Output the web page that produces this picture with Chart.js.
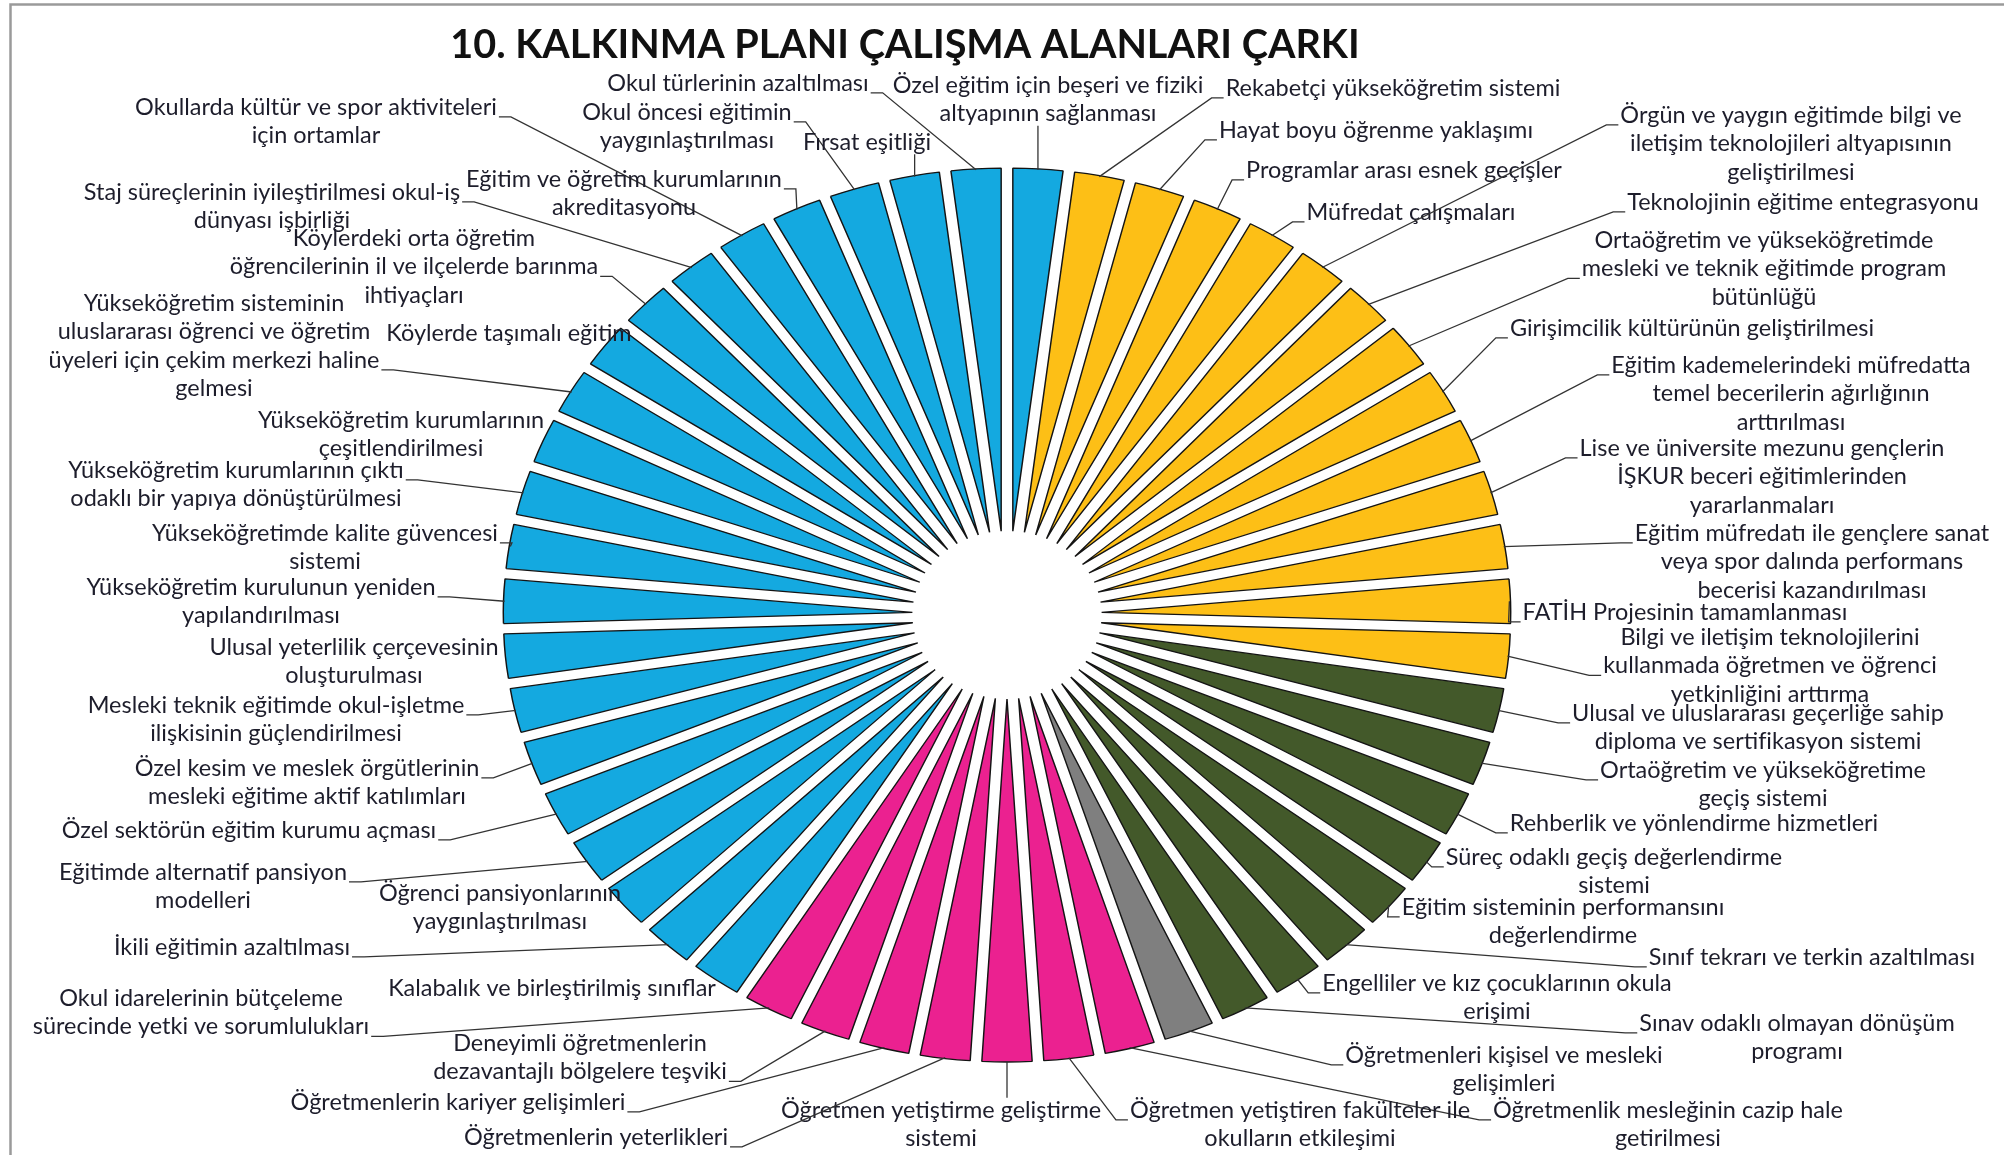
<!DOCTYPE html>
<html lang="tr">
<head>
<meta charset="utf-8">
<title>10. Kalkınma Planı Çalışma Alanları Çarkı</title>
<script src="https://cdn.jsdelivr.net/npm/chart.js@4.4.1/dist/chart.umd.min.js"></script>
<style>
  html, body { margin: 0; padding: 0; background: #fff; }
  #wrap { position: relative; width: 2004px; height: 1155px; }
</style>
</head>
<body>
<div id="wrap"><canvas id="wheel" width="2004" height="1155"></canvas></div>
<script>
// working areas, clockwise from 12 o'clock ("\n" = line break of the label)
const categories = [
  'Özel eğitim için beşeri ve fiziki\naltyapının sağlanması',
  'Rekabetçi yükseköğretim sistemi',
  'Hayat boyu öğrenme yaklaşımı',
  'Programlar arası esnek geçişler',
  'Müfredat çalışmaları',
  'Örgün ve yaygın eğitimde bilgi ve\niletişim teknolojileri altyapısının\ngeliştirilmesi',
  'Teknolojinin eğitime entegrasyonu',
  'Ortaöğretim ve yükseköğretimde\nmesleki ve teknik eğitimde program\nbütünlüğü',
  'Girişimcilik kültürünün geliştirilmesi',
  'Eğitim kademelerindeki müfredatta\ntemel becerilerin ağırlığının\narttırılması',
  'Lise ve üniversite mezunu gençlerin\nİŞKUR beceri eğitimlerinden\nyararlanmaları',
  'Eğitim müfredatı ile gençlere sanat\nveya spor dalında performans\nbecerisi kazandırılması',
  'FATİH Projesinin tamamlanması',
  'Bilgi ve iletişim teknolojilerini\nkullanmada öğretmen ve öğrenci\nyetkinliğini arttırma',
  'Ulusal ve uluslararası geçerliğe sahip\ndiploma ve sertifikasyon sistemi',
  'Ortaöğretim ve yükseköğretime\ngeçiş sistemi',
  'Rehberlik ve yönlendirme hizmetleri',
  'Süreç odaklı geçiş değerlendirme\nsistemi',
  'Eğitim sisteminin performansını\ndeğerlendirme',
  'Sınıf tekrarı ve terkin azaltılması',
  'Engelliler ve kız çocuklarının okula\nerişimi',
  'Sınav odaklı olmayan dönüşüm\nprogramı',
  'Öğretmenleri kişisel ve mesleki\ngelişimleri',
  'Öğretmenlik mesleğinin cazip hale\ngetirilmesi',
  'Öğretmen yetiştiren fakülteler ile\nokulların etkileşimi',
  'Öğretmen yetiştirme geliştirme\nsistemi',
  'Öğretmenlerin yeterlikleri',
  'Öğretmenlerin kariyer gelişimleri',
  'Deneyimli öğretmenlerin\ndezavantajlı bölgelere teşviki',
  'Okul idarelerinin bütçeleme\nsürecinde yetki ve sorumlulukları',
  'Kalabalık ve birleştirilmiş sınıflar',
  'İkili eğitimin azaltılması',
  'Öğrenci pansiyonlarının\nyaygınlaştırılması',
  'Eğitimde alternatif pansiyon\nmodelleri',
  'Özel sektörün eğitim kurumu açması',
  'Özel kesim ve meslek örgütlerinin\nmesleki eğitime aktif katılımları',
  'Mesleki teknik eğitimde okul-işletme\nilişkisinin güçlendirilmesi',
  'Ulusal yeterlilik çerçevesinin\noluşturulması',
  'Yükseköğretim kurulunun yeniden\nyapılandırılması',
  'Yükseköğretimde kalite güvencesi\nsistemi',
  'Yükseköğretim kurumlarının çıktı\nodaklı bir yapıya dönüştürülmesi',
  'Yükseköğretim kurumlarının\nçeşitlendirilmesi',
  'Yükseköğretim sisteminin\nuluslararası öğrenci ve öğretim\nüyeleri için çekim merkezi haline\ngelmesi',
  'Köylerde taşımalı eğitim',
  'Köylerdeki orta öğretim\nöğrencilerinin il ve ilçelerde barınma\nihtiyaçları',
  'Staj süreçlerinin iyileştirilmesi okul-iş\ndünyası işbirliği',
  'Okullarda kültür ve spor aktiviteleri\niçin ortamlar',
  'Eğitim ve öğretim kurumlarının\nakreditasyonu',
  'Okul öncesi eğitimin\nyaygınlaştırılması',
  'Fırsat eşitliği',
  'Okul türlerinin azaltılması'
];

// every area gets the same share of the wheel
const values = [
  1, 1, 1, 1, 1, 1, 1, 1, 1, 1, 1, 1, 1, 1, 1, 1, 1,
  1, 1, 1, 1, 1, 1, 1, 1, 1, 1, 1, 1, 1, 1, 1, 1, 1,
  1, 1, 1, 1, 1, 1, 1, 1, 1, 1, 1, 1, 1, 1, 1, 1, 1
];

// colour group of each area
const groups = [
  'blue',
  'yellow', 'yellow', 'yellow', 'yellow', 'yellow', 'yellow', 'yellow',
  'yellow', 'yellow', 'yellow', 'yellow', 'yellow', 'yellow',
  'green', 'green', 'green', 'green', 'green', 'green', 'green', 'green',
  'gray',
  'pink', 'pink', 'pink', 'pink', 'pink', 'pink', 'pink',
  'blue', 'blue', 'blue', 'blue', 'blue', 'blue', 'blue', 'blue', 'blue', 'blue', 'blue',
  'blue', 'blue', 'blue', 'blue', 'blue', 'blue', 'blue', 'blue', 'blue', 'blue'
];

const groupColors = {
  blue: '#14A9E0',
  yellow: '#FDBF16',
  green: '#43592A',
  gray: '#7F7F7F',
  pink: '#EB2190'
};

// label placement: centre x of the text block, y of its first line
const labelPos = [
  [1048, 85], [1393, 88], [1376, 130], [1404, 170], [1411, 212],
  [1791, 115], [1803, 202], [1764, 240], [1692, 328], [1791, 365],
  [1762, 448], [1812, 533], [1685, 612], [1770, 637], [1758, 713],
  [1763, 770], [1694, 823], [1614, 857], [1563, 907], [1812, 957],
  [1497, 983], [1797, 1023], [1504, 1055], [1668, 1110], [1300, 1110],
  [941, 1110], [596, 1137], [458, 1102], [580, 1043], [201, 998],
  [552, 988], [232, 947], [500, 893], [203, 872], [249, 830],
  [307, 768], [276, 705], [354, 647], [261, 587], [325, 533],
  [236, 470], [401, 420], [214, 303], [509, 333], [414, 238],
  [272, 192], [316, 107], [624, 179], [687, 112], [867, 142],
  [738, 83]
];

const TITLE = '10. KALKINMA PLANI ÇALIŞMA ALANLARI ÇARKI';
const STRETCH_X = 1.127;   // the wheel is wider than tall
const EXPLODE = 84;        // every slice is pulled out of the centre by this much
const LINE_H = 28.5;
const FONT_FAMILY = 'Lato, "Open Sans", sans-serif';
const TEXT_COLOR = '#1d1d2b';

function fitFont(ctx, sample, target, weight) {
  ctx.font = weight + ' 100px ' + FONT_FAMILY;
  const size = 100 * target / ctx.measureText(sample).width;
  return weight + ' ' + size.toFixed(2) + 'px ' + FONT_FAMILY;
}

function wheelCenter(chart) {
  const a = chart.chartArea;
  return [(a.left + a.right) / 2, (a.top + a.bottom) / 2];
}

// draws the library's arcs pulled apart and stretched sideways
const explodedWheel = {
  id: 'explodedWheel',
  beforeDraw(chart) {
    const ctx = chart.ctx;
    ctx.save();
    ctx.strokeStyle = '#9a9a9a';
    ctx.lineWidth = 2.5;
    ctx.strokeRect(10.5, 4.5, 2200, 1400);
    ctx.restore();
  },
  beforeDatasetsDraw(chart) {
    const ctx = chart.ctx;
    const [cx, cy] = wheelCenter(chart);
    const meta = chart.getDatasetMeta(0);
    ctx.save();
    ctx.translate(cx, cy);
    ctx.scale(STRETCH_X, 1);
    ctx.translate(-cx, -cy);
    meta.data.forEach(el => {
      const mid = (el.startAngle + el.endAngle) / 2;
      ctx.save();
      ctx.translate(Math.cos(mid) * EXPLODE, Math.sin(mid) * EXPLODE);
      el.draw(ctx, chart.chartArea);
      ctx.restore();
    });
    ctx.restore();
    return false;
  }
};

const wheelLabels = {
  id: 'wheelLabels',
  afterDraw(chart) {
    const ctx = chart.ctx;
    const [cx, cy] = wheelCenter(chart);
    const meta = chart.getDatasetMeta(0);

    ctx.save();
    ctx.fillStyle = '#111';
    ctx.textAlign = 'center';
    ctx.textBaseline = 'middle';
    ctx.font = fitFont(ctx, TITLE, 910, 'bold');
    ctx.fillText(TITLE, 905, 45);

    const labelFont = fitFont(ctx, 'Okullarda kültür ve spor aktiviteleri', 362, 'normal');
    ctx.font = labelFont;
    const fs = parseFloat(labelFont.split(' ')[1]);
    ctx.strokeStyle = '#333';
    ctx.lineWidth = 1.3;

    meta.data.forEach((el, i) => {
      const mid = (el.startAngle + el.endAngle) / 2;
      const r = el.outerRadius + EXPLODE - 1;
      const px = cx + Math.cos(mid) * r * STRETCH_X;
      const py = cy + Math.sin(mid) * r;

      const lines = categories[i].split('\n');
      const [lx, ly] = labelPos[i];
      const widths = lines.map(s => ctx.measureText(s).width);
      const wMax = Math.max(...widths);
      const wi = widths.indexOf(wMax);
      const left = lx - wMax / 2, right = lx + wMax / 2;
      const top = ly - LINE_H / 2, bottom = ly + (lines.length - 1) * LINE_H + LINE_H / 2;

      const dx = px < left ? left - px : (px > right ? px - right : 0);
      const dy = py < top ? top - py : (py > bottom ? py - bottom : 0);
      if (Math.hypot(dx, dy) > 12) {
        ctx.beginPath();
        if (px >= left - 12 && px <= right + 12 && dy > 0) {
          const ex = Math.min(Math.max(px, left), right);
          ctx.moveTo(ex, py < top ? top + 2 : bottom - 2);
          ctx.lineTo(px, py);
        } else {
          const dir = px > right ? 1 : -1;
          const side = dir > 0 ? right : left;
          const sy = ly + wi * LINE_H + fs * 0.42;
          ctx.moveTo(side + dir * 2, sy);
          ctx.lineTo(side + dir * 14, sy);
          ctx.lineTo(px, py);
        }
        ctx.stroke();
      }

      ctx.fillStyle = TEXT_COLOR;
      lines.forEach((s, k) => ctx.fillText(s, lx, ly + k * LINE_H));
    });
    ctx.restore();
  }
};

new Chart(document.getElementById('wheel'), {
  type: 'pie',
  data: {
    labels: categories.map(s => s.replace(/\n/g, ' ')),
    datasets: [{
      data: values,
      backgroundColor: groups.map(g => groupColors[g]),
      borderColor: '#141414',
      borderWidth: 1.3,
      radius: 363,
      cutout: 0
    }]
  },
  options: {
    responsive: false,
    animation: false,
    events: [],
    layout: { padding: { left: 507, right: 497, top: 115, bottom: 40 } },
    plugins: {
      legend: { display: false },
      tooltip: { enabled: false },
      title: { display: false }
    }
  },
  plugins: [explodedWheel, wheelLabels]
});
</script>
</body>
</html>
